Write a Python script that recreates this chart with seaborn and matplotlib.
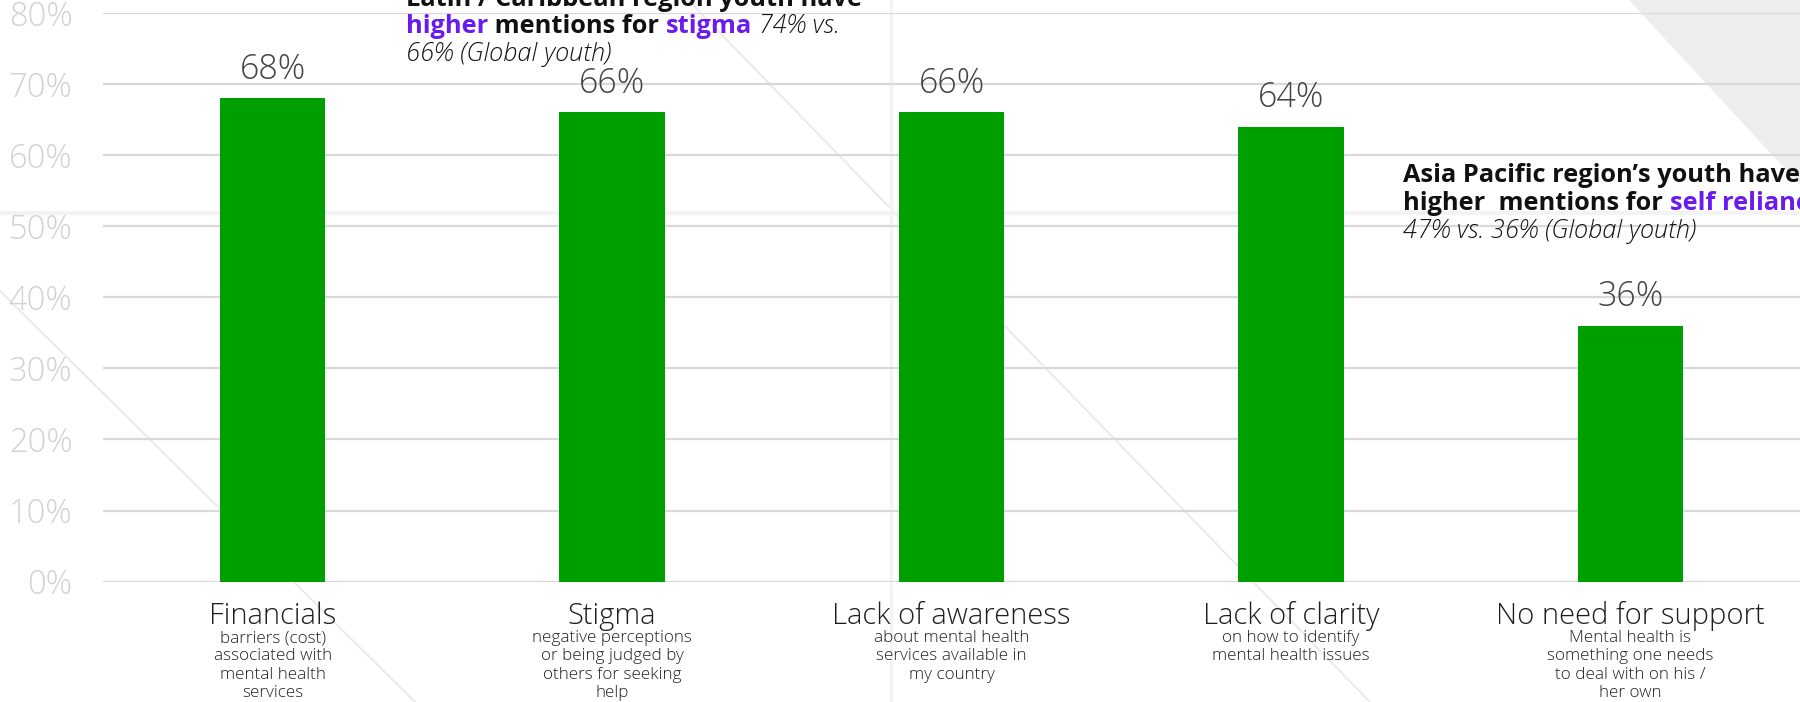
import matplotlib
matplotlib.use("Agg")
import matplotlib.pyplot as plt
from matplotlib.lines import Line2D
from matplotlib.patches import Polygon
import pandas as pd
import seaborn as sns

# ---- data -------------------------------------------------------------
categories = ["Financials", "Stigma", "Lack of awareness", "Lack of clarity",
              "No need for support"]
descriptions = [
    "barriers (cost)\nassociated with\nmental health\nservices",
    "negative perceptions\nor being judged by\nothers for seeking\nhelp",
    "about mental health\nservices available in\nmy country",
    "on how to identify\nmental health issues",
    "Mental health is\nsomething one needs\nto deal with on his /\nher own",
]
shares = [68, 66, 66, 64, 36]
y_ticks = [0, 10, 20, 30, 40, 50, 60, 70, 80]
y_tick_labels = ["0%", "10%", "20%", "30%", "40%", "50%", "60%", "70%", "80%"]

GREEN = "#009f00"
PURPLE = "#6a1bef"

# ---- figure -----------------------------------------------------------
W, H = 1800, 702
sns.set_theme(style="white")
plt.rcParams["font.family"] = ["Open Sans", "DejaVu Sans"]
plt.rcParams["font.weight"] = "light"

fig = plt.figure(figsize=(W / 100, H / 100), dpi=100)
fig.patch.set_facecolor("white")


def fx(px):
    return px / W


def fy(py):
    return 1 - py / H


# background decoration behind the plot area
fig.add_artist(Polygon([(fx(1629), fy(0)), (fx(1800), fy(0)), (fx(1800), fy(185))],
                       closed=True, transform=fig.transFigure, facecolor="#ededed",
                       edgecolor="none", zorder=-3))
for (x0, y0), (x1, y1) in [((0, 291), (415, 702)), ((688, 0), (1370, 702))]:
    fig.add_artist(Line2D([fx(x0), fx(x1)], [fy(y0), fy(y1)], transform=fig.transFigure,
                          color="#ebebeb", linewidth=1.5, zorder=-2))
fig.add_artist(Line2D([fx(891), fx(891)], [0, 1], transform=fig.transFigure,
                      color="#f4f4f4", linewidth=2.5, zorder=-2))
fig.add_artist(Line2D([0, 1], [fy(213), fy(213)], transform=fig.transFigure,
                      color="#f3f3f3", linewidth=3, zorder=-2))

ax = fig.add_axes([fx(103), fy(581.7), 1 - fx(103), (581.7 - 12.8) / H])
ax.patch.set_visible(False)

df = pd.DataFrame({"category": categories, "share": shares})
sns.barplot(data=df, x="category", y="share", color=GREEN, saturation=1,
            width=0.31, linewidth=0, ax=ax, zorder=3)

ax.set_xlim(-0.5, 4.5)
ax.set_ylim(0, 80)
ax.set_xlabel("")
ax.set_ylabel("")
ax.set_xticks([])
ax.set_yticks(y_ticks, y_tick_labels)
ax.tick_params(axis="y", length=0, pad=22, labelsize=23.5, labelcolor="#d2d2d2")
ax.yaxis.grid(True, color="#d9d9d9", linewidth=1.6)
ax.set_axisbelow(True)
for side in ax.spines.values():
    side.set_visible(False)

# value labels above bars
for i, v in enumerate(shares):
    ax.annotate(f"{v}%", xy=(i, v), xytext=(0, 14), textcoords="offset points",
                ha="center", va="baseline", fontsize=24.5, color="#444444",
                annotation_clip=False)

# category names and their descriptions
for i, (cat, desc) in enumerate(zip(categories, descriptions)):
    ax.annotate(cat, xy=(i, 0), xytext=(0, -30.7), textcoords="offset points",
                ha="center", va="baseline", fontsize=21, color="#1e1e1e",
                annotation_clip=False)
    ax.annotate(desc, xy=(i, 0), xytext=(0, -34.8), textcoords="offset points",
                ha="center", va="top", fontsize=12.3, color="#222222",
                linespacing=1.2, multialignment="center", annotation_clip=False)

# ---- call-out notes with mixed styling --------------------------------
renderer = fig.canvas.get_renderer()


def advance(text, style):
    probe = fig.text(0, 0, text + "|", **style)
    w1 = probe.get_window_extent(renderer).width
    probe.remove()
    probe = fig.text(0, 0, "|", **style)
    w2 = probe.get_window_extent(renderer).width
    probe.remove()
    return w1 - w2


def rich_line(x_px, base_px, runs):
    x = x_px
    for text, style in runs:
        fig.text(fx(x), fy(base_px), text, ha="left", va="baseline", **style)
        x += advance(text, style)


NOTE = 18.3
bold = dict(fontsize=NOTE, fontweight="bold", color="#111111")
accent = dict(fontsize=NOTE, fontweight="bold", color=PURPLE)
ital = dict(fontsize=NOTE, fontweight="light", fontstyle="italic", color="#111111")

rich_line(406, 5.9, [("Latin / Caribbean region youth have", bold)])
rich_line(406, 33.3, [("higher", accent), (" mentions for ", bold),
                      ("stigma", accent), (" 74% vs.", ital)])
rich_line(406, 60.7, [("66% (Global youth)", ital)])

rich_line(1403, 181.7, [("Asia Pacific region\u2019s youth have", bold)])
rich_line(1403, 209.5, [("higher  mentions for ", bold), ("self reliance", accent)])
rich_line(1403, 237.5, [("47% vs. 36% (Global youth)", ital)])

fig.savefig("out.png", dpi=100)
